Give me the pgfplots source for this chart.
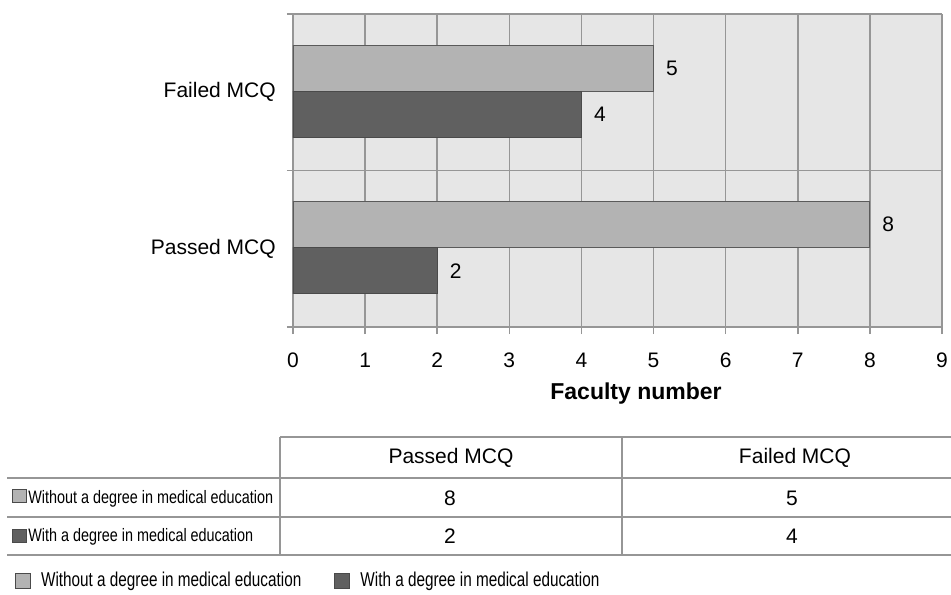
\documentclass[border=0pt]{standalone}
\usepackage{fontspec}
\setmainfont{Liberation Sans}
\usepackage{graphicx}
\usepackage{pgfplots}
\pgfplotsset{compat=1.18}
\definecolor{bgc}{HTML}{E6E6E6}
\definecolor{gridc}{HTML}{969696}
\definecolor{lightbar}{HTML}{B3B3B3}
\definecolor{lightedge}{HTML}{5A5A5A}
\definecolor{darkbar}{HTML}{606060}
\definecolor{darkedge}{HTML}{4A4A4A}
\newcommand\fA{\fontsize{15.75pt}{18pt}\selectfont}
\newcommand\fB{\fontsize{17.25pt}{20pt}\selectfont\bfseries}
\newcommand\fC{\fontsize{13.5pt}{16pt}\selectfont}
\newcommand\fD{\fontsize{15pt}{18pt}\selectfont}
\begin{document}
\begin{tikzpicture}[x=0.75pt,y=-0.75pt]
\useasboundingbox (0,0) rectangle (951,594);
\begin{axis}[
  at={(219.75pt,-245.25pt)}, anchor=south west,
  scale only axis, width=486.75pt, height=234.75pt,
  xbar,
  xmin=0, xmax=9, ymin=-0.5, ymax=1.5,
  xtick={0,...,9},
  ytick={0,1}, yticklabels={Passed MCQ, Failed MCQ},
  minor ytick={-0.5,0.5,1.5},
  xmajorgrids, yminorgrids,
  axis lines*=left,
  axis line style={gridc, line width=1.1pt},
  major grid style={gridc, line width=1.1pt},
  minor grid style={gridc, line width=1.1pt},
  tick align=outside,
  major tick length=5.25pt, minor tick length=4.5pt,
  tick style={gridc, line width=1.1pt},
  major y tick style={draw=none},
  axis background/.style={fill=bgc},
  /pgf/number format/assume math mode=true,
  ticklabel style={font=\fA},
  xticklabel style={anchor=north, inner sep=0pt, yshift=-14.25pt},
  yticklabel style={anchor=east, inner sep=0pt, xshift=-7.5pt},
  xlabel={Faculty number},
  xlabel style={font=\fB, at={(axis description cs:0.5285,0)}, anchor=base, yshift=-54pt},
  nodes near coords,
  every node near coord/.append style={font=\fA, anchor=west, inner sep=0pt, xshift=9pt, black},
  legend style={at={(-0.4284,-0.81)}, anchor=west, draw=none, fill=none, inner sep=0pt, outer sep=0pt,
    font=\fD, nodes={inner sep=0pt},
    /tikz/every even column/.append style={column sep=24.75pt}},
  legend columns=2,
  legend cell align=left,
]
\addplot[xbar, bar width=34.5pt, bar shift=18pt, fill=lightbar, draw=lightedge, line width=0.9pt,
  legend image code/.code={\draw[fill=lightbar, draw=darkedge, line width=0.75pt] (0pt,-5.6pt) rectangle (11.25pt,5.6pt); \path (18.75pt,0pt);}]
  coordinates {(8,0) (5,1)};
\addlegendentry{\scalebox{0.765}[1]{Without a degree in medical education}}
\addplot[xbar, bar width=34.5pt, bar shift=-16.5pt, fill=darkbar, draw=darkedge, line width=0.9pt,
  legend image code/.code={\draw[fill=darkbar, draw=darkedge, line width=0.75pt] (0pt,-5.6pt) rectangle (11.25pt,5.6pt); \path (18.75pt,0pt);}]
  coordinates {(2,0) (4,1)};
\addlegendentry{\scalebox{0.765}[1]{With a degree in medical education}}
\end{axis}
% data table
\begin{scope}[gridc, line width=1.1pt]
\draw (280,437) -- (951,437);
\draw (7,478) -- (951,478);
\draw (7,517) -- (951,517);
\draw (7,555) -- (951,555);
\draw (280,437) -- (280,555);
\draw (622,437) -- (622,555);
\end{scope}
\node[font=\fA, anchor=base, inner sep=0pt] at (451,463) {Passed MCQ};
\node[font=\fA, anchor=base, inner sep=0pt] at (795,463) {Failed MCQ};
\node[font=\fA, anchor=base, inner sep=0pt] at (450,505) {8};
\node[font=\fA, anchor=base, inner sep=0pt] at (792,505) {5};
\node[font=\fA, anchor=base, inner sep=0pt] at (450,543) {2};
\node[font=\fA, anchor=base, inner sep=0pt] at (792,543) {4};
\draw[fill=lightbar, draw=darkedge, line width=0.75pt] (12,489) rectangle (26,502);
\draw[fill=darkbar, draw=darkedge, line width=0.75pt] (12,529) rectangle (26,542);
\node[font=\fC, anchor=base west, inner sep=0pt] at (28,503) {\scalebox{0.8}[1]{Without a degree in medical education}};
\node[font=\fC, anchor=base west, inner sep=0pt] at (28,541) {\scalebox{0.8}[1]{With a degree in medical education}};
\end{tikzpicture}
\end{document}
